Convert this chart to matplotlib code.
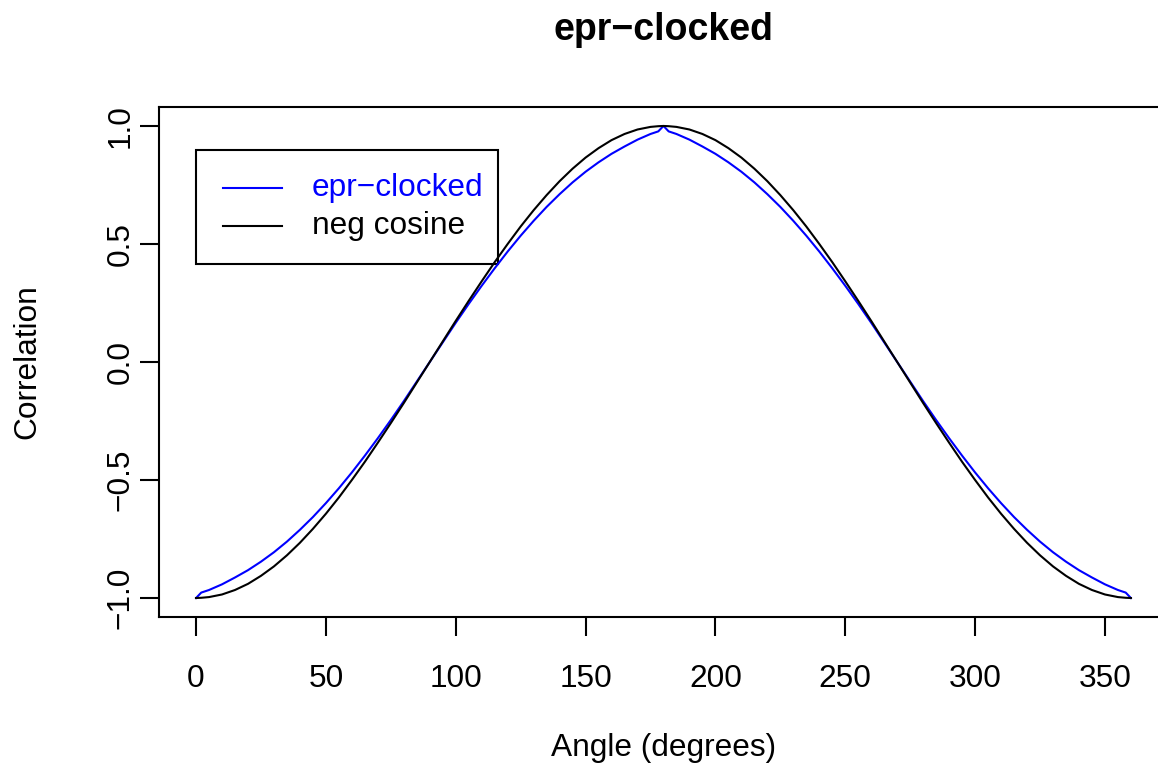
import matplotlib
matplotlib.use('Agg')
import matplotlib.pyplot as plt
from matplotlib.patches import Rectangle

plt.rcParams['font.family'] = ['Liberation Sans', 'DejaVu Sans']

# angle in degrees
angle = [0, 2, 5, 10, 15, 20, 25, 30, 35, 40, 45, 50, 55, 60, 65, 70, 75, 80, 85, 90,
         95, 100, 105, 110, 115, 120, 125, 130, 135, 140, 145, 150, 155, 160, 165, 170, 175, 178, 180,
         182, 185, 190, 195, 200, 205, 210, 215, 220, 225, 230, 235, 240, 245, 250, 255, 260, 265, 270,
         275, 280, 285, 290, 295, 300, 305, 310, 315, 320, 325, 330, 335, 340, 345, 350, 355, 358, 360]

# epr-clocked simulation
epr_clocked = [-1.000, -0.977, -0.966, -0.942, -0.913, -0.882, -0.846, -0.806, -0.761, -0.711,
               -0.657, -0.598, -0.535, -0.468, -0.397, -0.323, -0.246, -0.166, -0.083, 0.000,
               0.083, 0.166, 0.246, 0.323, 0.397, 0.468, 0.535, 0.598, 0.657, 0.711,
               0.761, 0.806, 0.846, 0.882, 0.913, 0.942, 0.966, 0.977, 1.000,
               0.977, 0.966, 0.942, 0.913, 0.882, 0.846, 0.806, 0.761, 0.711, 0.657,
               0.598, 0.535, 0.468, 0.397, 0.323, 0.246, 0.166, 0.083, 0.000,
               -0.083, -0.166, -0.246, -0.323, -0.397, -0.468, -0.535, -0.598, -0.657, -0.711,
               -0.761, -0.806, -0.846, -0.882, -0.913, -0.942, -0.966, -0.977, -1.000]

# negative cosine reference
neg_cosine = [-1.000, -0.999, -0.996, -0.985, -0.966, -0.940, -0.906, -0.866, -0.819, -0.766,
              -0.707, -0.643, -0.574, -0.500, -0.423, -0.342, -0.259, -0.174, -0.087, 0.000,
              0.087, 0.174, 0.259, 0.342, 0.423, 0.500, 0.574, 0.643, 0.707, 0.766,
              0.819, 0.866, 0.906, 0.940, 0.966, 0.985, 0.996, 0.999, 1.000,
              0.999, 0.996, 0.985, 0.966, 0.940, 0.906, 0.866, 0.819, 0.766, 0.707,
              0.643, 0.574, 0.500, 0.423, 0.342, 0.259, 0.174, 0.087, 0.000,
              -0.087, -0.174, -0.259, -0.342, -0.423, -0.500, -0.574, -0.643, -0.707, -0.766,
              -0.819, -0.866, -0.906, -0.940, -0.966, -0.985, -0.996, -0.999, -1.000]

x_ticks = [0, 50, 100, 150, 200, 250, 300, 350]
y_ticks = [-1.0, -0.5, 0.0, 0.5, 1.0]
y_tick_labels = ['\u22121.0', '\u22120.5', '0.0', '0.5', '1.0']

fs = 22.8
lw = 1.5

fig = plt.figure(figsize=(11.58, 7.72), dpi=100)
ax = fig.add_axes([0.137, 0.2009, 0.8719, 0.6604])

ax.plot(angle, epr_clocked, color='blue', lw=lw)
ax.plot(angle, neg_cosine, color='black', lw=lw)

ax.set_xlim(-14.4, 374.4)
ax.set_ylim(-1.08, 1.08)

ax.set_xticks(x_ticks)
ax.set_xticklabels([str(t) for t in x_ticks], fontsize=fs)
ax.set_yticks(y_ticks)
ax.set_yticklabels(y_tick_labels, fontsize=fs, rotation=90, va='center')
ax.tick_params(axis='both', direction='out', length=13.7, width=lw, color='black')
ax.tick_params(axis='x', pad=20)
ax.tick_params(axis='y', pad=3)
for s in ax.spines.values():
    s.set_linewidth(lw)

ax.set_title('epr\u2212clocked', fontsize=27, fontweight='bold', y=1.135, va='center')
ax.set_xlabel('Angle (degrees)', fontsize=fs, va='center')
ax.xaxis.set_label_coords(0.5, -0.257)
ax.set_ylabel('Correlation', fontsize=fs, va='center')
ax.yaxis.set_label_coords(-0.1303, 0.5)

# legend box drawn R style
ax.add_patch(Rectangle((0, 0.414), 116.3, 0.486, fill=False, edgecolor='black', lw=lw))
leg_names = ['epr\u2212clocked', 'neg cosine']
leg_colors = ['blue', 'black']
leg_y = [0.739, 0.576]
for name, col, yy in zip(leg_names, leg_colors, leg_y):
    ax.plot([10.4, 33.1], [yy, yy], color=col, lw=lw)
    ax.text(44.5, yy, name, color=col, fontsize=fs, va='center', ha='left')

fig.savefig('out.png', dpi=100)
